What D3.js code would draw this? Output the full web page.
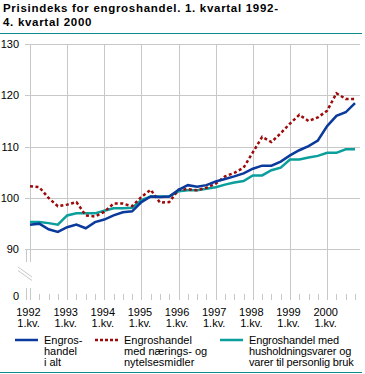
<!DOCTYPE html>
<html><head><meta charset="utf-8">
<script src="https://cdn.jsdelivr.net/npm/d3@7"></script>
<style>body{margin:0;background:#fff}svg{display:block}text{font-family:"Liberation Sans",Arial,sans-serif}</style>
</head><body>
<script>
const quarters = d3.range(36).map(i => (1992 + Math.floor(i/4)) + "K" + (i%4+1));
const yearLabels = ["1992","1993","1994","1995","1996","1997","1998","1999","2000"];
const yTicks = [90,100,110,120,130];
const engrosAlt = [94.8,95.0,93.9,93.4,94.3,94.8,94.1,95.3,95.8,96.6,97.2,97.4,99.2,100.3,100.2,100.3,101.6,102.5,102.2,102.5,103.2,103.7,104.2,104.8,105.7,106.3,106.3,107.1,108.3,109.3,110.1,111.2,114.0,116.0,116.7,118.5];
const naeringNytelse = [102.3,102.1,100.0,98.4,98.7,99.2,96.6,96.4,97.3,98.9,98.9,98.4,100.2,101.6,99.1,99.2,101.6,101.7,101.5,102.0,102.8,104.2,104.9,105.9,108.9,111.9,110.9,112.6,114.5,116.2,115.0,115.7,117.0,120.4,119.3,119.3];
const husholdning = [95.3,95.3,95.1,94.8,96.6,97.0,97.0,97.0,97.5,98.0,98.0,98.1,99.6,100.3,100.3,100.3,101.3,101.5,101.5,101.8,102.1,102.6,103.0,103.3,104.4,104.4,105.4,105.9,107.5,107.5,107.9,108.2,108.8,108.8,109.5,109.5];
const legendLabels = [["Engros-","handel","i alt"],["Engroshandel","med nærings- og","nytelsesmidler"],["Engroshandel med","husholdningsvarer og","varer til personlig bruk"]];
const titleLines = ["Prisindeks for engroshandel. 1. kvartal 1992-","4. kvartal 2000"];
const colors = ["#0a3a9c","#9c0a0a","#0a9e9c"];

const W=365,H=374;
const svg=d3.select("body").append("svg").attr("width",W).attr("height",H);
const grid="#c8c8c8";
const x=d3.scaleLinear().domain([0,35]).range([30,355]);
const y=d3.scaleLinear().domain([90,130]).range([249.3,44]);

// title
titleLines.forEach((t,i)=>svg.append("text").attr("x",3).attr("y",12+i*13.5).attr("font-size",11.5)
  .attr("font-weight","bold").attr("letter-spacing","0.7").text(t));
svg.append("line").attr("x1",0).attr("x2",362).attr("y1",33.5).attr("y2",33.5).attr("stroke","#0a8c8c").attr("stroke-width",1);
svg.append("line").attr("x1",0).attr("x2",362).attr("y1",372.5).attr("y2",372.5).attr("stroke","#0a8c8c").attr("stroke-width",1);

// horizontal grid
svg.append("g").selectAll("line").data(yTicks).join("line")
  .attr("x1",25).attr("x2",360).attr("y1",d=>Math.round(y(d))+0.5).attr("y2",d=>Math.round(y(d))+0.5)
  .attr("stroke",grid);
svg.append("g").selectAll("text").data(yTicks).join("text")
  .attr("x",19).attr("y",d=>y(d)+4).attr("text-anchor","end").attr("font-size",11).text(d=>d);
// vertical year grid
const yearIdx=d3.range(1,9).map(k=>k*4);
svg.append("g").selectAll("line").data(yearIdx).join("line")
  .attr("x1",d=>Math.round(x(d))+0.5).attr("x2",d=>Math.round(x(d))+0.5).attr("y1",44).attr("y2",300)
  .attr("stroke",grid);
// y axis line and break
const ax=svg.append("g").attr("stroke",grid).attr("fill","none");
ax.append("line").attr("x1",30.5).attr("x2",30.5).attr("y1",44).attr("y2",262);
ax.append("line").attr("x1",26.5).attr("x2",26.5).attr("y1",249).attr("y2",262);
ax.append("line").attr("x1",18).attr("x2",32).attr("y1",267).attr("y2",277);
ax.append("line").attr("x1",18).attr("x2",32).attr("y1",270.5).attr("y2",280.5);
ax.append("line").attr("x1",30.5).attr("x2",30.5).attr("y1",288).attr("y2",300);
ax.append("line").attr("x1",26.5).attr("x2",26.5).attr("y1",288).attr("y2",300);
// quarter ticks
svg.append("g").selectAll("line").data(d3.range(1,36).filter(i=>i%4!==0)).join("line")
  .attr("x1",d=>Math.round(x(d))+0.5).attr("x2",d=>Math.round(x(d))+0.5).attr("y1",294).attr("y2",300)
  .attr("stroke",grid);
svg.append("text").attr("x",19).attr("y",300).attr("text-anchor","end").attr("font-size",11).text("0");
// x labels
const xl=svg.append("g").attr("font-size",11).attr("text-anchor","middle");
yearLabels.forEach((t,k)=>{
  xl.append("text").attr("x",x(k*4)-1.5).attr("y",316).text(t);
  xl.append("text").attr("x",x(k*4)-1.5).attr("y",327).text("1.kv.");
});

// lines
const line=d3.line().x((d,i)=>x(i)).y(d=>y(d));
svg.append("path").datum(husholdning).attr("d",line).attr("fill","none").attr("stroke",colors[2]).attr("stroke-width",2.5);
svg.append("path").datum(naeringNytelse).attr("d",line).attr("fill","none").attr("stroke",colors[1]).attr("stroke-width",2.5).attr("stroke-dasharray","3,2.5");
svg.append("path").datum(engrosAlt).attr("d",line).attr("fill","none").attr("stroke",colors[0]).attr("stroke-width",2.5);

// legend
const lx=[15,95,220];
legendLabels.forEach((lines,k)=>{
  const g=svg.append("g");
  g.append("line").attr("x1",lx[k]).attr("x2",lx[k]+23).attr("y1",340).attr("y2",340)
   .attr("stroke",colors[k]).attr("stroke-width",2.5).attr("stroke-dasharray",k===1?"3,2":null);
  lines.forEach((t,j)=>g.append("text").attr("x",lx[k]+29).attr("y",344+j*11).attr("font-size",11)
    .attr("letter-spacing",k===2?"-0.15":null).text(t));
});
</script>
</body></html>
